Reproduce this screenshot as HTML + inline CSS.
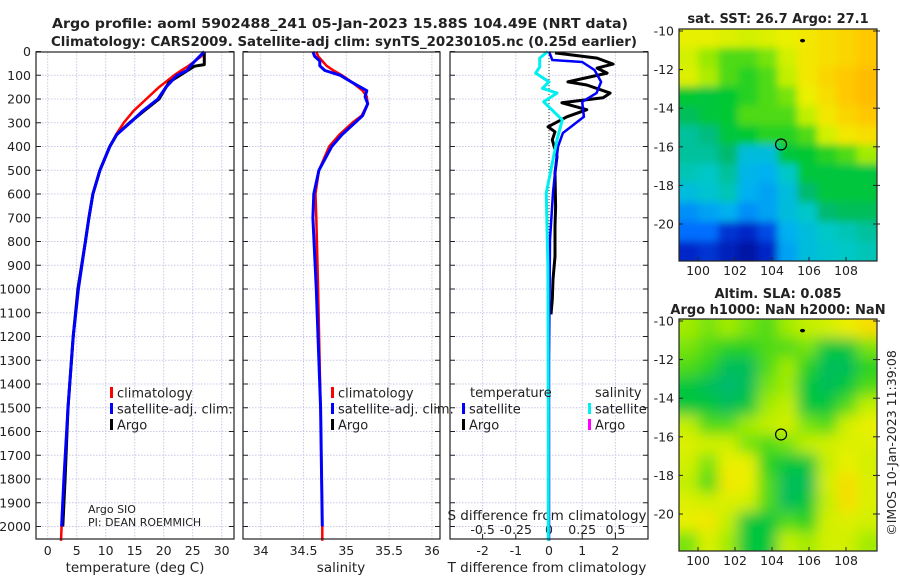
<!DOCTYPE html>
<html><head><meta charset="utf-8"><style>
html,body{margin:0;padding:0;background:#fff;}
svg text{font-family:"DejaVu Sans","Liberation Sans",sans-serif;fill:#222;}
</style></head><body>
<svg id="chart" width="900" height="580" viewBox="0 0 900 580" xmlns="http://www.w3.org/2000/svg">
<defs>
<filter id="blurS" filterUnits="userSpaceOnUse" x="660" y="0" width="240" height="580"><feGaussianBlur stdDeviation="4"/></filter>
<filter id="blurL" filterUnits="userSpaceOnUse" x="660" y="0" width="240" height="580"><feGaussianBlur stdDeviation="7"/></filter>
<clipPath id="clipTop"><rect x="679" y="29" width="198" height="232"/></clipPath>
<clipPath id="clipBot"><rect x="679" y="319" width="198" height="232"/></clipPath>
</defs>
<text x="340" y="28" text-anchor="middle" font-size="13.5" font-weight="bold" textLength="576" lengthAdjust="spacingAndGlyphs">Argo profile: aoml 5902488_241 05-Jan-2023 15.88S 104.49E (NRT data)</text>
<text x="344" y="46" text-anchor="middle" font-size="13.5" font-weight="bold" textLength="586" lengthAdjust="spacingAndGlyphs">Climatology: CARS2009. Satellite-adj clim: synTS_20230105.nc (0.25d earlier)</text>
<g id="layer"></g>
</svg>
<script>
// ---------- profile data ----------
const depthClimT = [0,20,40,60,80,100,150,200,250,300,350,400,500,600,700,800,1000,1200,1500,1800,2000,2060];
const tempClim   = [26.8,26.5,25.4,24.3,23.0,21.8,19.2,17.0,14.8,13.1,11.8,10.7,9.0,7.8,7.1,6.5,5.3,4.4,3.5,2.8,2.4,2.3];
const tempSat    = [27.0,26.2,25.4,24.6,24.0,22.3,20.4,19.0,16.4,14.2,11.9,10.7,9.0,7.8,7.1,6.5,5.3,4.4,3.5,2.8,2.4];
const depthSatT  = [0,20,40,60,80,100,150,200,250,300,350,400,500,600,700,800,1000,1200,1500,1800,2000];
const depthArgo  = [0,20,55,62,100,130,200,250,300,350,400,500,600,700,800,1000,1200,1500,1800,2000];
const tempArgo   = [27.0,27.0,27.0,25.3,22.8,20.9,19.2,16.6,14.1,11.9,10.7,9.0,7.8,7.1,6.5,5.2,4.4,3.5,3.0,2.6];

const depthS     = [0,20,40,60,80,100,120,145,165,190,220,270,300,350,400,500,600,700,1000,1500,2000,2060];
const salClim    = [34.65,34.67,34.72,34.77,34.85,34.95,35.03,35.12,35.19,35.24,35.25,35.18,35.07,34.92,34.80,34.68,34.64,34.65,34.67,34.70,34.72,34.72];
const salSat     = [34.61,34.63,34.69,34.69,34.75,34.93,35.02,35.14,35.24,35.22,35.25,35.19,35.10,34.95,34.83,34.68,34.62,34.61,34.65,34.70,34.72];

const depthDT    = [6,28,53,70,91,128,141,175,195,216,245,275,317,338,372,443,511,653,737,863,960,1044,1107];
const dTArgo     = [0.18,1.45,1.93,1.45,1.75,0.57,1.14,1.84,1.63,0.39,1.14,0.54,-0.03,0.18,0.1,0.24,0.18,0.2,0.18,0.18,0.12,0.1,0.06];
const depthDTs   = [0,36,44,78,128,175,212,275,343,401,511,595,792,1300,2060];
const dTSat      = [0,0.1,1.0,1.37,1.57,1.43,1.0,1.05,0.42,0.27,0.18,0.12,0.03,0,0];
const depthDS    = [0,28,65,91,128,155,175,212,288,372,511,595,737,900,1500,2060];
const dSSat      = [-0.01,-0.07,-0.07,-0.1,0,-0.05,0.06,-0.04,0.1,0.06,0.01,-0.02,-0.015,-0.008,-0.005,-0.005];

const tempTicks = [0,5,10,15,20,25,30];
const salTicks = [34,34.5,35,35.5,36];
const dTTicks = [-2,-1,0,1,2];
const dSTickLabels = ["-0.5","-0.25","0","0.25","0.5"];
const dSTicks = [-0.5,-0.25,0,0.25,0.5];
const depthTicks = [0,100,200,300,400,500,600,700,800,900,1000,1100,1200,1300,1400,1500,1600,1700,1800,1900,2000];

// ---------- map data (normalized colour values) ----------
const sstGrid = [
[0.74,0.74,0.72,0.70,0.72,0.75,0.78,0.80,0.82,0.85],
[0.70,0.64,0.60,0.60,0.62,0.70,0.78,0.80,0.82,0.85],
[0.72,0.66,0.60,0.58,0.60,0.68,0.78,0.82,0.85,0.88],
[0.56,0.55,0.56,0.58,0.60,0.62,0.75,0.80,0.85,0.88],
[0.52,0.55,0.56,0.60,0.60,0.60,0.68,0.78,0.82,0.85],
[0.45,0.48,0.55,0.56,0.58,0.58,0.60,0.70,0.78,0.80],
[0.45,0.45,0.50,0.35,0.35,0.55,0.56,0.58,0.60,0.65],
[0.42,0.40,0.45,0.32,0.30,0.40,0.55,0.55,0.55,0.55],
[0.35,0.38,0.42,0.30,0.28,0.35,0.50,0.55,0.55,0.55],
[0.25,0.28,0.30,0.25,0.28,0.35,0.40,0.50,0.52,0.52],
[0.20,0.20,0.12,0.10,0.15,0.30,0.35,0.40,0.42,0.45],
[0.10,0.12,0.08,0.05,0.10,0.28,0.35,0.38,0.40,0.42]];
const slaGrid = [
[0.65,0.62,0.65,0.62,0.60,0.65,0.68,0.70,0.75,0.80],
[0.62,0.60,0.58,0.58,0.60,0.60,0.62,0.55,0.55,0.62],
[0.60,0.58,0.52,0.52,0.60,0.65,0.58,0.52,0.52,0.58],
[0.55,0.52,0.50,0.52,0.62,0.65,0.55,0.52,0.55,0.60],
[0.55,0.55,0.52,0.55,0.65,0.68,0.55,0.55,0.60,0.68],
[0.68,0.60,0.60,0.65,0.68,0.70,0.62,0.60,0.70,0.75],
[0.72,0.70,0.70,0.62,0.60,0.62,0.68,0.70,0.72,0.72],
[0.70,0.62,0.75,0.75,0.58,0.55,0.55,0.68,0.75,0.70],
[0.68,0.60,0.78,0.75,0.60,0.52,0.52,0.70,0.80,0.72],
[0.72,0.70,0.72,0.70,0.60,0.52,0.55,0.68,0.80,0.72],
[0.75,0.78,0.68,0.55,0.55,0.60,0.58,0.70,0.72,0.70],
[0.62,0.72,0.65,0.55,0.55,0.68,0.65,0.70,0.70,0.65]];
const lonTicks = [100,102,104,106,108];
const latTicks = [-10,-12,-14,-16,-18,-20];
const floatPos = [104.49,-15.88];
const otherPos = [105.65,-10.5];

// ---------- helpers ----------
const NS="http://www.w3.org/2000/svg";
const layer=document.getElementById('layer');
function el(tag,attrs,parent){const e=document.createElementNS(NS,tag);for(const k in attrs)e.setAttribute(k,attrs[k]);(parent||layer).appendChild(e);return e;}
function txt(s,attrs,parent){const e=el('text',attrs,parent);e.textContent=s;return e;}

const yD = d => 51.5 + 0.2375*d;
const xT = t => 47.7 + 5.8*t;
const xS = s => 260.7 + 85.6*(s-34);
const xDT = t => 549 + 33.2*t;
const xDS = s => 549 + 132.8*s;
const panels=[{x0:36,x1:234,name:'temperature-panel'},{x0:243,x1:440,name:'salinity-panel'},{x0:450,x1:648,name:'difference-panel'}];
const PY0=52, PY1=539;

panels.forEach((p,i)=>{
  const g=el('g',{});
  
  
  depthTicks.forEach(d=>{ if(d>0) el('line',{x1:p.x0,x2:p.x1,y1:yD(d),y2:yD(d),stroke:'#c9c9e6','stroke-width':1,'stroke-dasharray':'1.5,1.5'},g);});
  const vt = i===0?tempTicks.map(xT): i===1?salTicks.map(xS): dTTicks.map(xDT);
  vt.forEach(x=>el('line',{x1:x,x2:x,y1:PY0,y2:PY1,stroke:'#c9c9e6','stroke-width':1,'stroke-dasharray':'1.5,1.5'},g));
  depthTicks.forEach(d=>{
    el('line',{x1:p.x0,x2:p.x0+5,y1:yD(d),y2:yD(d),stroke:'#222','stroke-width':1},g);
    el('line',{x1:p.x1-5,x2:p.x1,y1:yD(d),y2:yD(d),stroke:'#222','stroke-width':1},g);
  });
});

depthTicks.forEach(d=>{
  const t=txt(String(d),{x:31,y:yD(d)+4.5,'text-anchor':'end','font-size':12.5});
  
  
});
tempTicks.forEach(v=>{const t=txt(String(v),{x:xT(v),y:555,'text-anchor':'middle','font-size':12.5});
  
  });
salTicks.forEach(v=>{const t=txt(String(v),{x:xS(v),y:555,'text-anchor':'middle','font-size':12.5});
  
  });
dTTicks.forEach(v=>{const t=txt(String(v),{x:xDT(v),y:555,'text-anchor':'middle','font-size':12.5});
  
  });
dSTicks.forEach((v,i)=>{const t=txt(dSTickLabels[i],{x:xDS(v),y:534,'text-anchor':'middle','font-size':12.5});
  
  });
dSTicks.forEach(v=>{el('line',{x1:xDS(v),x2:xDS(v),y1:PY1-5,y2:PY1,stroke:'#222'});});

function axisTitle(s,x,y,name){const t=txt(s,{x:x,y:y,'text-anchor':'middle','font-size':13.5});
  
  }
axisTitle('temperature (deg C)',135,572,'temperature-axis-title');
axisTitle('salinity',341,572,'salinity-axis-title');
axisTitle('T difference from climatology',547,572,'t-difference-axis-title');
axisTitle('S difference from climatology',547,520,'s-difference-axis-title');

el('line',{x1:xDT(0),x2:xDT(0),y1:PY0,y2:PY1,stroke:'#333','stroke-width':1,'stroke-dasharray':'1,2'});

function line(xs,ds,xf,color,w,name){
  const pts=xs.map((v,i)=>xf(v).toFixed(1)+','+yD(ds[i]).toFixed(1)).join(' ');
  const p=el('polyline',{points:pts,fill:'none',stroke:color,'stroke-width':w,'stroke-linejoin':'round'});
  
  
}
line(tempClim,depthClimT,xT,'#ff0000',2.5,'temperature-climatology-line');
line(tempArgo,depthArgo,xT,'#000000',3,'temperature-argo-line');
line(tempSat,depthSatT,xT,'#0000ff',3,'temperature-satellite-line');
line(salClim,depthS,xS,'#ff0000',2.5,'salinity-climatology-line');
line(salSat,depthS.slice(0,salSat.length),xS,'#0000ff',3,'salinity-satellite-line');
line(dTArgo,depthDT,xDT,'#000000',3,'t-difference-argo-line');
line(dTSat,depthDTs,xDT,'#0000ff',2.5,'t-difference-satellite-line');
line(dSSat,depthDS,xDS,'#00f0f0',3,'s-difference-satellite-line');

panels.forEach(p=>{el('rect',{x:p.x0,y:PY0,width:p.x1-p.x0,height:PY1-PY0,fill:'none',stroke:'#222','stroke-width':1.2});});

function legendEntry(x,y,color,label,name){
  const g=el('g',{});
  
  
  el('rect',{x:x,y:y-6,width:3,height:11,fill:color},g);
  txt(label,{x:x+7,y:y+4.5,'font-size':13},g);
}
legendEntry(110,393,'#ff0000','climatology','legend-temp-climatology');
legendEntry(110,409,'#0000ff','satellite-adj. clim.','legend-temp-satellite');
legendEntry(110,425,'#000000','Argo','legend-temp-argo');
legendEntry(331,393,'#ff0000','climatology','legend-sal-climatology');
legendEntry(331,409,'#0000ff','satellite-adj. clim.','legend-sal-satellite');
legendEntry(331,425,'#000000','Argo','legend-sal-argo');
txt('temperature',{x:470,y:397,'font-size':13});
txt('salinity',{x:595,y:397,'font-size':13});
legendEntry(462,409,'#0000ff','satellite','legend-dt-satellite');
legendEntry(462,425,'#000000','Argo','legend-dt-argo');
legendEntry(588,409,'#00f0f0','satellite','legend-ds-satellite');
legendEntry(588,425,'#ff00ff','Argo','legend-ds-argo');
txt('Argo SIO',{x:88,y:513,'font-size':11});
txt('PI: DEAN ROEMMICH',{x:88,y:526,'font-size':11});

// ---------- maps ----------
const stops=[[0,[0,0,128]],[0.1,[0,40,200]],[0.2,[0,110,255]],[0.3,[0,176,240]],[0.4,[0,200,200]],[0.5,[0,185,110]],[0.56,[0,200,50]],[0.63,[140,232,0]],[0.69,[205,240,0]],[0.76,[240,240,0]],[0.85,[255,200,0]],[1,[255,140,0]]];
function cmap(v){for(let i=1;i<stops.length;i++){if(v<=stops[i][0]){const a=stops[i-1],b=stops[i];const f=(v-a[0])/(b[0]-a[0]);const c=a[1].map((q,k)=>Math.round(q+(b[1][k]-q)*f));return 'rgb('+c.join(',')+')';}}return 'rgb(255,140,0)';}
function drawMap(grid,y0,latRef,clip,filter,name,title1,title2){
  const lonX = lon => 698 + (lon-100)*18.5;
  const latY = lat => latRef + (-10-lat)*19.3;
  const g=el('g',{'clip-path':'url(#'+clip+')'});
  
  
  const gi=el('g',{filter:'url(#'+filter+')'},g);
  const nR=grid.length,nC=grid[0].length;
  const cw=(877-679)/nC, ch=232/nR;
  for(let r=0;r<nR;r++)for(let c=0;c<nC;c++){
    const cell=el('rect',{x:679+c*cw-0.5-(c===0?12:0),y:y0+r*ch-0.5-(r===0?12:0),width:cw+1+(c===0||c===nC-1?12:0),height:ch+1+(r===0||r===nR-1?12:0),fill:cmap(grid[r][c])},gi);
    
    
  }
  el('circle',{cx:lonX(floatPos[0]),cy:latY(floatPos[1]),r:5.5,fill:'none',stroke:'#000','stroke-width':1.2});
  el('ellipse',{cx:lonX(otherPos[0]),cy:latY(otherPos[1]),rx:2.5,ry:1.8,fill:'#000'});
  el('rect',{x:679,y:y0,width:198,height:232,fill:'none',stroke:'#222','stroke-width':1.2});
  latTicks.forEach(l=>{const y=latY(l);
    el('line',{x1:679,x2:683,y1:y,y2:y,stroke:'#222'});el('line',{x1:873,x2:880,y1:y,y2:y,stroke:'#222'});
    const t=txt(String(l),{x:674,y:y+4.5,'text-anchor':'end','font-size':12.5});
    
    });
  lonTicks.forEach(l=>{const x=lonX(l);
    el('line',{x1:x,x2:x,y1:y0+232-4,y2:y0+232,stroke:'#222'});
    const t=txt(String(l),{x:x,y:y0+246,'text-anchor':'middle','font-size':12.5});
    
    });
  if(title2){
    txt(title1,{x:778,y:y0-21,'text-anchor':'middle','font-size':13,'font-weight':'bold'});
    txt(title2,{x:778,y:y0-5,'text-anchor':'middle','font-size':13,'font-weight':'bold'});
  } else txt(title1,{x:778,y:y0-6,'text-anchor':'middle','font-size':13,'font-weight':'bold'});
}
drawMap(sstGrid,29,31,'clipTop','blurS','sst-map','sat. SST: 26.7 Argo: 27.1');
drawMap(slaGrid,319,321,'clipBot','blurL','sla-map','Altim. SLA: 0.085','Argo h1000: NaN h2000: NaN');
const cp=txt('\u00A9IMOS 10-Jan-2023 11:39:08',{x:0,y:0,'text-anchor':'middle','font-size':12.5,transform:'translate(896,443) rotate(-90)'});


</script>
</body></html>
